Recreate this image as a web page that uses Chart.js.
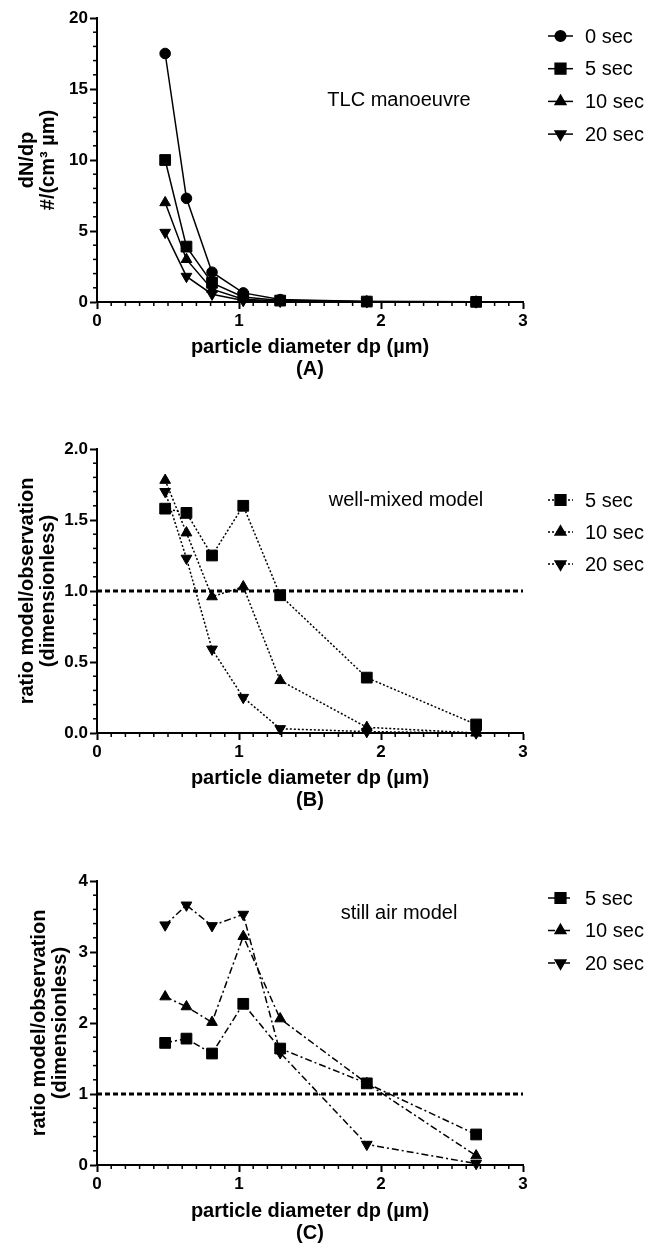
<!DOCTYPE html>
<html>
<head>
<meta charset="utf-8">
<script src="https://cdn.jsdelivr.net/npm/chart.js"></script>
<style>
  body { margin: 0; background: #fff; }
  #wrap { position: relative; width: 652px; height: 1246px; }
  .panel { position: absolute; left: 0; width: 652px; }
</style>
</head>
<body>
<div id="wrap">
  <div class="panel" style="top:0;height:390px"><canvas id="chartA"></canvas></div>
  <div class="panel" style="top:390px;height:430px"><canvas id="chartB"></canvas></div>
  <div class="panel" style="top:820px;height:426px"><canvas id="chartC"></canvas></div>
</div>
<script>
// particle diameters (µm), shared by all three panels
const diameters = [0.48, 0.63, 0.81, 1.03, 1.29, 1.90, 2.67];
const timeLabels = ['0 sec', '5 sec', '10 sec', '20 sec'];
const xTicks = [0, 1, 2, 3];

// (A) dN/dp, TLC manoeuvre
const tlc0 = [17.5, 7.3, 2.1, 0.64, 0.17, 0.04, 0.02];
const tlc5 = [10.0, 3.9, 1.35, 0.35, 0.1, 0.03, 0.01];
const tlc10 = [7.0, 3.0, 0.9, 0.2, 0.07, 0.02, 0.01];
const tlc20 = [4.9, 1.8, 0.55, 0.1, 0.05, 0.01, 0.0];

// (B) ratio model/observation, well-mixed model
const mixed5 = [1.58, 1.55, 1.25, 1.60, 0.97, 0.39, 0.06];
const mixed10 = [1.78, 1.41, 0.96, 1.03, 0.37, 0.04, 0.0];
const mixed20 = [1.70, 1.23, 0.59, 0.25, 0.03, 0.01, 0.0];

// (C) ratio model/observation, still air model
const still5 = [1.72, 1.78, 1.57, 2.27, 1.64, 1.15, 0.43];
const still10 = [2.37, 2.23, 2.01, 3.22, 2.06, 1.15, 0.13];
const still20 = [3.38, 3.66, 3.37, 3.53, 1.58, 0.29, 0.02];

// ratio = 1 reference line for B and C
const refX = [0, 3];
const refY = [1, 1];

Chart.defaults.font.family = '"Liberation Sans", Arial, sans-serif';
Chart.defaults.color = '#000';

const markers = {
  '0 sec': { pointStyle: 'circle', pointRadius: 5.3, pointRotation: 0 },
  '5 sec': { pointStyle: 'rect', pointRadius: 7.6, pointRotation: 0 },
  '10 sec': { pointStyle: 'triangle', pointRadius: 6.2, pointRotation: 0 },
  '20 sec': { pointStyle: 'triangle', pointRadius: 6.2, pointRotation: 180 }
};

function series(label, values, dash) {
  return Object.assign({
    label: label,
    data: values.map((v, i) => ({ x: diameters[i], y: v })),
    borderColor: '#000',
    backgroundColor: '#000',
    pointBackgroundColor: '#000',
    pointBorderColor: '#000',
    pointBorderWidth: 1,
    borderWidth: 1.5,
    borderDash: dash,
    clip: false
  }, markers[label]);
}

function refLine() {
  return {
    label: '',
    data: refX.map((x, i) => ({ x: x, y: refY[i] })),
    borderColor: '#000',
    borderWidth: 2.8,
    borderDash: [5, 3],
    pointRadius: 0,
    clip: false
  };
}

// Prism-style minor ticks, legend with line + marker, and the panel note
const prismPlugin = {
  id: 'prism',
  afterDraw(chart, args, opts) {
    const ctx = chart.ctx;
    const area = chart.chartArea;
    ctx.save();
    ctx.strokeStyle = '#000';
    ctx.lineWidth = 1.5;
    [['x', opts.xMinor, opts.xMajor], ['y', opts.yMinor, opts.yMajor]].forEach(([id, minor, major]) => {
      const sc = chart.scales[id];
      const n = Math.round((sc.max - sc.min) / minor);
      for (let i = 0; i <= n; i++) {
        const v = sc.min + i * minor;
        const r = v / major;
        if (Math.abs(r - Math.round(r)) < 1e-6) continue;
        const p = sc.getPixelForValue(v);
        ctx.beginPath();
        if (id === 'x') { ctx.moveTo(p, area.bottom); ctx.lineTo(p, area.bottom + 4); }
        else { ctx.moveTo(area.left, p); ctx.lineTo(area.left - 4, p); }
        ctx.stroke();
      }
    });

    ctx.fillStyle = '#000';
    ctx.font = '20px "Liberation Sans", Arial, sans-serif';
    ctx.textBaseline = 'middle';
    ctx.textAlign = 'center';
    ctx.fillText(opts.note, opts.noteX, opts.noteY);

    ctx.textAlign = 'left';
    let row = 0;
    chart.data.datasets.forEach(ds => {
      if (!ds.label) return;
      const y = opts.legendY + row * opts.rowHeight;
      const x = opts.legendX;
      ctx.lineWidth = ds.borderWidth;
      ctx.setLineDash(ds.borderDash || []);
      ctx.beginPath();
      ctx.moveTo(x, y);
      ctx.lineTo(x + 25, y);
      ctx.stroke();
      ctx.setLineDash([]);
      Chart.helpers.drawPoint(ctx, {
        pointStyle: ds.pointStyle,
        radius: ds.pointRadius,
        rotation: ds.pointRotation,
        borderWidth: 1
      }, x + 12.5, y);
      ctx.fillText(ds.label, x + 37, y + 1);
      row++;
    });
    ctx.restore();
  }
};

function makePanel(id, cfg) {
  new Chart(document.getElementById(id), {
    type: 'line',
    data: { datasets: cfg.datasets },
    options: {
      responsive: true,
      maintainAspectRatio: false,
      animation: false,
      layout: { padding: { left: 0, right: 129, top: cfg.top, bottom: 0 } },
      plugins: {
        legend: { display: false },
        tooltip: { enabled: false },
        prism: cfg.prism
      },
      scales: {
        x: {
          type: 'linear',
          min: xTicks[0],
          max: xTicks[xTicks.length - 1],
          afterBuildTicks: s => { s.ticks = xTicks.map(v => ({ value: v })); },
          afterFit: s => { s.height = cfg.xHeight; },
          ticks: { font: { size: 17, weight: 'bold' }, padding: 2, maxRotation: 0 },
          grid: { drawOnChartArea: false, tickLength: 7, tickWidth: 2, tickColor: '#000' },
          border: { color: '#000', width: 2 },
          title: {
            display: true,
            text: ['particle diameter dp (µm)', cfg.tag],
            font: { size: 20, weight: 'bold', lineHeight: 1.1 },
            padding: { top: 0, bottom: cfg.xTitlePad }
          }
        },
        y: {
          min: cfg.yTicks[0],
          max: cfg.yTicks[cfg.yTicks.length - 1],
          afterBuildTicks: s => { s.ticks = cfg.yTicks.map(v => ({ value: v })); },
          afterFit: s => { s.width = 97; },
          ticks: {
            font: { size: 17, weight: 'bold' },
            padding: 2,
            callback: v => cfg.yDecimals ? v.toFixed(cfg.yDecimals) : v
          },
          grid: { drawOnChartArea: false, tickLength: 7, tickWidth: 2, tickColor: '#000' },
          border: { color: '#000', width: 2 },
          title: {
            display: true,
            text: cfg.yTitle,
            font: { size: 20, weight: 'bold', lineHeight: 1.05 },
            padding: { top: cfg.yTitlePad, bottom: 0 }
          }
        }
      }
    },
    plugins: [prismPlugin]
  });
}

makePanel('chartA', {
  datasets: [
    series(timeLabels[0], tlc0, []),
    series(timeLabels[1], tlc5, []),
    series(timeLabels[2], tlc10, []),
    series(timeLabels[3], tlc20, [])
  ],
  top: 18, xHeight: 88, xTitlePad: 10, tag: '(A)',
  yTicks: [0, 5, 10, 15, 20], yDecimals: 0,
  yTitle: ['dN/dp', '#/(cm³ µm)'], yTitlePad: 17,
  prism: { xMinor: 0.1, xMajor: 1, yMinor: 1, yMajor: 5,
    note: 'TLC manoeuvre', noteX: 399, noteY: 100,
    legendX: 548, legendY: 36, rowHeight: 32.7 }
});

makePanel('chartB', {
  datasets: [
    refLine(),
    series(timeLabels[1], mixed5, [2, 2]),
    series(timeLabels[2], mixed10, [2, 2]),
    series(timeLabels[3], mixed20, [2, 2])
  ],
  top: 59, xHeight: 87, xTitlePad: 9, tag: '(B)',
  yTicks: [0, 0.5, 1, 1.5, 2], yDecimals: 1,
  yTitle: ['ratio model/observation', '(dimensionless)'], yTitlePad: 17,
  prism: { xMinor: 0.1, xMajor: 1, yMinor: 0.1, yMajor: 0.5,
    note: 'well-mixed model', noteX: 406, noteY: 110,
    legendX: 548, legendY: 110, rowHeight: 32 }
});

makePanel('chartC', {
  datasets: [
    refLine(),
    series(timeLabels[1], still5, [7, 3, 2, 3]),
    series(timeLabels[2], still10, [7, 3, 2, 3]),
    series(timeLabels[3], still20, [7, 3, 2, 3])
  ],
  top: 61, xHeight: 81, xTitlePad: 2, tag: '(C)',
  yTicks: [0, 1, 2, 3, 4], yDecimals: 0,
  yTitle: ['ratio model/observation', '(dimensionless)'], yTitlePad: 29,
  prism: { xMinor: 0.1, xMajor: 1, yMinor: 0.2, yMajor: 1,
    note: 'still air model', noteX: 399, noteY: 93,
    legendX: 548, legendY: 78, rowHeight: 32.5 }
});
</script>
</body>
</html>
